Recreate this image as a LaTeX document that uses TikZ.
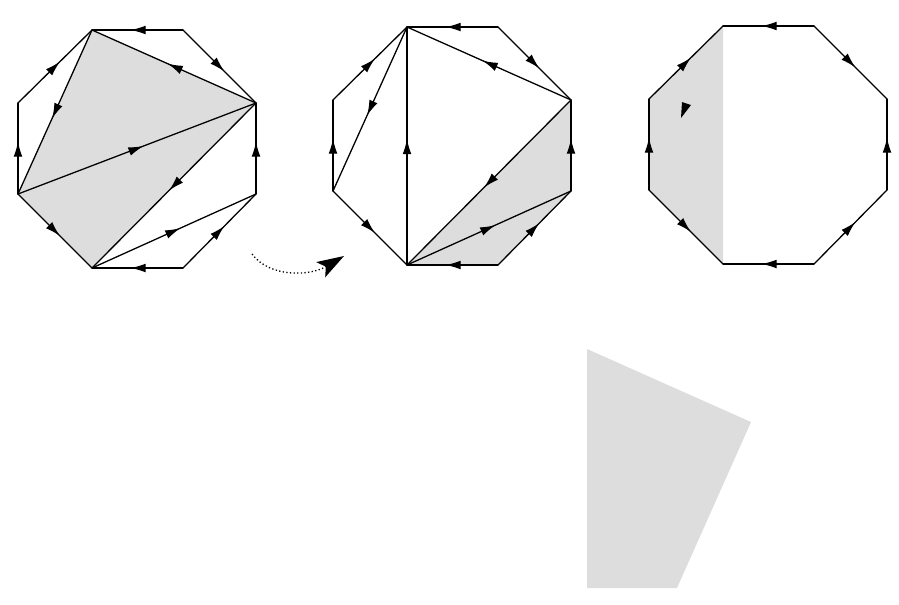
\documentclass[tikz,border=0pt]{standalone}
\usepackage{tikz}
\usetikzlibrary{arrows.meta, decorations.markings}

\definecolor{piecegray}{RGB}{221,221,221}

% corners of one octagon, top left of its box at the origin
\newcommand{\octpoints}[1]{%
  \coordinate (A#1) at (74,0);
  \coordinate (B#1) at (165,0);
  \coordinate (C#1) at (238,73);
  \coordinate (D#1) at (238,164);
  \coordinate (E#1) at (165,238);
  \coordinate (F#1) at (74,238);
  \coordinate (G#1) at (0,164);
  \coordinate (H#1) at (0,73);
}

\begin{document}
\begin{tikzpicture}[x=0.03cm, y=-0.03cm, line width=1.1pt, line cap=round,
  mid arrow/.style={postaction={decorate},
    decoration={markings, mark=at position 0.5 with
      {\arrow[xshift=6pt]{Latex[length=13pt,width=7.5pt]}}}},
  piece/.style={fill=piecegray}]
\useasboundingbox (0,0) rectangle (899,604);

% First octagon
\begin{scope}[shift={(18,30)}]
\octpoints{1}
\fill[piece] (A1) -- (C1) -- (F1) -- (G1) -- cycle;
\foreach \s/\e in {B/A, B/C, D/C, E/D, E/F, G/F, G/H, H/A}
  \draw[mid arrow] (\s1) -- (\e1);
\draw[mid arrow] (A1) -- (G1);
\draw[mid arrow] (C1) -- (A1);
\draw[mid arrow] (G1) -- (C1);
\draw[mid arrow] (C1) -- (F1);
\draw[mid arrow] (F1) -- (D1);
\end{scope}

% Move
\coordinate (from) at (252,254);
\coordinate (to) at (344,256);
\draw[dotted, line width=1.1pt, line cap=butt,
  -{Stealth[length=23pt,width=15pt,inset=5pt]}]
  (from) .. controls (270,278) and (310,276) .. (to);

% Second octagon
\begin{scope}[shift={(333,27)}]
\octpoints{2}
\fill[piece] (C2) -- (D2) -- (E2) -- (F2) -- cycle;
\foreach \s/\e in {B/A, B/C, D/C, E/D, E/F, G/F, G/H, H/A}
  \draw[mid arrow] (\s2) -- (\e2);
\draw[mid arrow] (A2) -- (G2);
\draw[mid arrow] (F2) -- (A2);
\draw[mid arrow] (C2) -- (A2);
\draw[mid arrow] (C2) -- (F2);
\draw[mid arrow] (F2) -- (D2);
\end{scope}

% Third octagon
\begin{scope}[shift={(649,26)}]
\octpoints{3}
\fill[piece] (A3) -- (F3) -- (G3) -- (H3) -- cycle;
\foreach \s/\e in {B/A, B/C, D/C, E/D, E/F, G/F, G/H, H/A}
  \draw[mid arrow] (\s3) -- (\e3);
\fill (33,76) -- (42,79) -- (32,92) -- cycle;
\end{scope}

% Loose piece
\fill[piece] (587,349) -- (751,422) -- (677,588) -- (587,588) -- cycle;
\end{tikzpicture}
\end{document}
